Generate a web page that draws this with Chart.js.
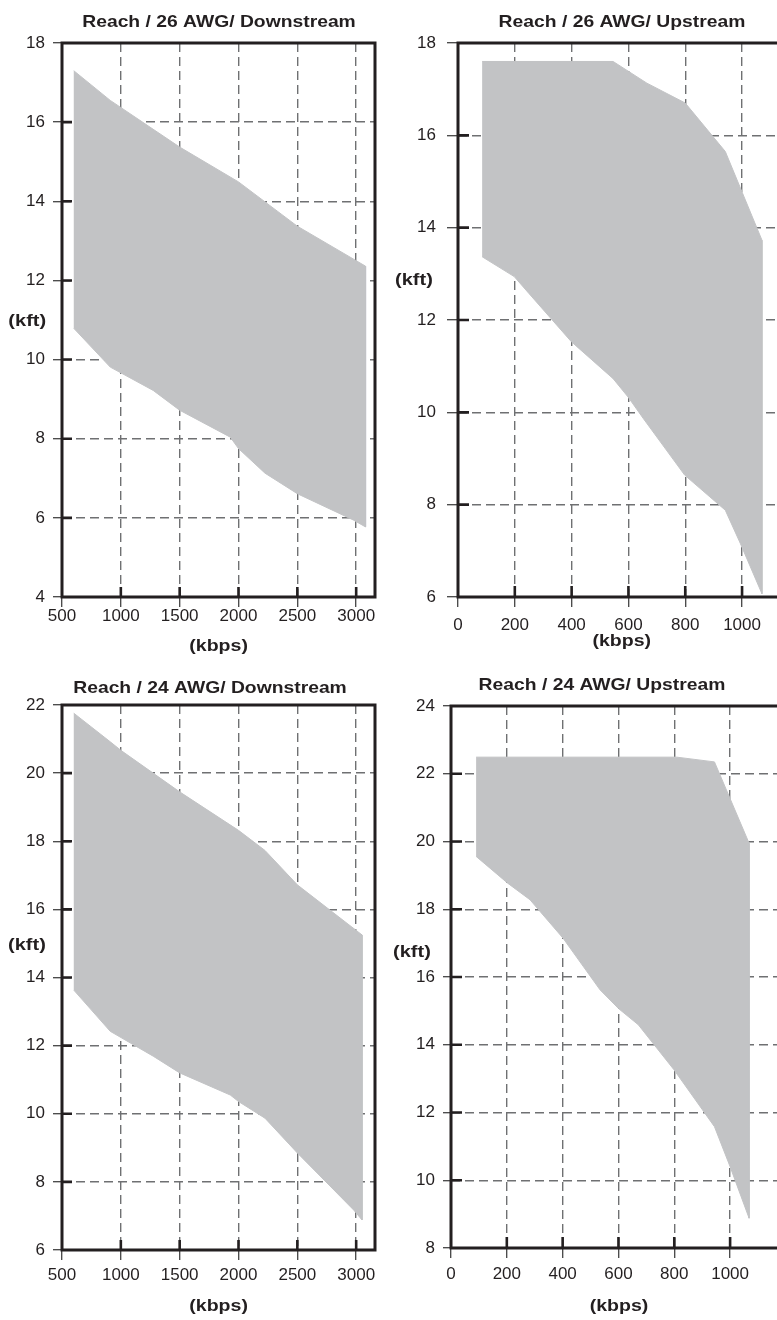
<!DOCTYPE html>
<html>
<head>
<meta charset="utf-8">
<script src="https://cdn.jsdelivr.net/npm/chart.js@4.4.1/dist/chart.umd.min.js"></script>
<style>
  html, body { margin: 0; padding: 0; background: #fff; }
  body { width: 777px; height: 1320px; position: relative; overflow: hidden; }
  canvas { position: absolute; }
</style>
</head>
<body>
<canvas id="c26down" width="388" height="660" style="left:0;top:0"></canvas>
<canvas id="c26up" width="389" height="660" style="left:388px;top:0"></canvas>
<canvas id="c24down" width="388" height="660" style="left:0;top:660px"></canvas>
<canvas id="c24up" width="389" height="660" style="left:388px;top:660px"></canvas>
<script>
// tick labels
const downTicksX = [500, 1000, 1500, 2000, 2500, 3000];
const upTicksX = [0, 200, 400, 600, 800, 1000];
const d26TicksY = [4, 6, 8, 10, 12, 14, 16, 18];
const u26TicksY = [6, 8, 10, 12, 14, 16, 18];
const d24TicksY = [6, 8, 10, 12, 14, 16, 18, 20, 22];
const u24TicksY = [8, 10, 12, 14, 16, 18, 20, 22, 24];

// 26 AWG downstream: reach band (kft) vs rate (kbps)
const d26UpperX = [600, 910, 1500, 2000, 2500, 3080];
const d26UpperY = [17.3, 16.55, 15.37, 14.49, 13.37, 12.36];
const d26LowerX = [600, 910, 1275, 1500, 1930, 2000, 2225, 2500, 2980, 3080];
const d26LowerY = [10.79, 9.81, 9.22, 8.72, 8.04, 7.75, 7.13, 6.61, 5.94, 5.77];

// 26 AWG upstream
const u26UpperX = [85, 546, 665, 800, 941, 1070];
const u26UpperY = [17.6, 17.6, 17.13, 16.7, 15.65, 13.73];
const u26LowerX = [85, 198, 249, 399, 546, 599, 653, 798, 941, 994, 1070];
const u26LowerY = [13.37, 12.94, 12.58, 11.53, 10.73, 10.33, 9.86, 8.64, 7.88, 7.16, 6.07];

// 24 AWG downstream
const d24UpperX = [600, 910, 1000, 1500, 2000, 2225, 2500, 3050];
const d24UpperY = [21.76, 20.92, 20.67, 19.45, 18.32, 17.73, 16.72, 15.25];
const d24LowerX = [600, 910, 1275, 1500, 1930, 2000, 2225, 2500, 2980, 3050];
const d24LowerY = [13.63, 12.42, 11.69, 11.2, 10.55, 10.36, 9.87, 8.85, 7.17, 6.88];

// 24 AWG upstream
const u24UpperX = [90, 809, 944, 1068];
const u24UpperY = [22.49, 22.49, 22.35, 19.95];
const u24LowerX = [90, 203, 283, 401, 534, 600, 671, 799, 944, 1000, 1068];
const u24LowerY = [19.56, 18.77, 18.28, 17.15, 15.62, 15.07, 14.59, 13.26, 11.58, 10.4, 8.88];

const INK = '#231f20';
const BAND = '#c2c3c5';
const GRID = '#6f7072';
const FONT = '"Liberation Sans", Arial, Helvetica, sans-serif';

// upper edge left->right, then lower edge back, closed as one shape
function band(ux, uy, lx, ly) {
    const top = ux.map((x, i) => ({ x: x, y: uy[i] }));
    const bottom = lx.map((x, i) => ({ x: x, y: ly[i] })).reverse();
    return top.concat(bottom);
}

function wideText(ctx, str, x, y, align, sx) {
    ctx.save();
    ctx.translate(x, y);
    ctx.scale(sx, 1);
    ctx.textAlign = align;
    ctx.fillText(str, 0, 0);
    ctx.restore();
}

// box frame, inner tick marks and the titles
const framePlugin = {
    id: 'frame',
    afterDraw(chart, args, o) {
        const ctx = chart.ctx;
        const a = chart.chartArea;
        const x = chart.scales.x, y = chart.scales.y;
        ctx.save();
        ctx.strokeStyle = INK;
        ctx.lineWidth = 2.6;
        ctx.beginPath();
        x.ticks.forEach(t => {
            const px = x.getPixelForValue(t.value);
            if (px > a.left + 3 && px < a.right - 3) {
                ctx.moveTo(px, a.bottom);
                ctx.lineTo(px, a.bottom - o.inner);
            }
        });
        y.ticks.forEach(t => {
            const py = y.getPixelForValue(t.value);
            if (py > a.top + 3 && py < a.bottom - 3) {
                ctx.moveTo(a.left, py);
                ctx.lineTo(a.left + o.inner, py);
            }
        });
        ctx.stroke();

        ctx.lineWidth = 3;
        ctx.beginPath();
        if (o.closed) {
            ctx.rect(a.left, a.top, a.right - a.left, a.bottom - a.top);
        } else {
            ctx.moveTo(a.right + 2, a.top);
            ctx.lineTo(a.left, a.top);
            ctx.lineTo(a.left, a.bottom);
            ctx.lineTo(a.right + 2, a.bottom);
        }
        ctx.stroke();

        ctx.fillStyle = INK;
        ctx.textBaseline = 'alphabetic';
        ctx.font = 'bold 16.5px ' + FONT;
        wideText(ctx, o.title, o.titleX, o.titleY, 'center', 1.17);
        ctx.textBaseline = 'middle';
        ctx.font = 'bold 17px ' + FONT;
        wideText(ctx, '(kft)', o.kftX, o.kftY, 'left', 1.18);
        wideText(ctx, '(kbps)', o.kbpsX, o.kbpsY, 'center', 1.15);
        ctx.restore();
    }
};

function axis(min, max, ticks, size, tickLen, pad, horizontal) {
    return {
        type: 'linear',
        min: min,
        max: max,
        z: 1,
        afterBuildTicks: s => { s.ticks = ticks.map(v => ({ value: v })); },
        afterFit: s => { if (horizontal) s.height = size; else s.width = size; },
        grid: {
            color: GRID,
            lineWidth: 1.4,
            tickLength: tickLen,
            tickColor: '#444',
            tickWidth: 1.3
        },
        border: { display: false, dash: [9, 5] },
        ticks: {
            color: INK,
            padding: pad,
            font: { family: FONT, size: 17 },
            callback: v => String(v)
        }
    };
}

function panel(id, p) {
    new Chart(document.getElementById(id), {
        type: 'scatter',
        data: {
            datasets: [{
                data: p.data,
                showLine: true,
                fill: 'shape',
                backgroundColor: BAND,
                borderColor: BAND,
                borderWidth: 1,
                pointRadius: 0,
                pointHoverRadius: 0,
                tension: 0
            }]
        },
        options: {
            responsive: false,
            animation: false,
            events: [],
            layout: { padding: p.pad },
            plugins: {
                legend: { display: false },
                tooltip: { enabled: false },
                frame: p.frame
            },
            scales: {
                x: axis(p.xMin, p.xMax, p.xTicks, p.xh, 10, p.xPad, true),
                y: axis(p.yMin, p.yMax, p.yTicks, p.yw, p.yTick, p.yPad, false)
            }
        },
        plugins: [framePlugin]
    });
}

panel('c26down', {
    data: band(d26UpperX, d26UpperY, d26LowerX, d26LowerY),
    xMin: 500, xMax: 3160, xTicks: downTicksX,
    yMin: 4, yMax: 18, yTicks: d26TicksY,
    pad: { top: 43, right: 13, left: 0, bottom: 0 },
    xh: 63, yw: 62, xPad: -1, yTick: 9, yPad: 8,
    frame: { closed: true, inner: 10, title: 'Reach / 26 AWG/ Downstream', titleX: 219, titleY: 26.7,
             kftX: 8.3, kftY: 321, kbpsX: 218.6, kbpsY: 646 }
});

panel('c26up', {
    data: band(u26UpperX, u26UpperY, u26LowerX, u26LowerY),
    xMin: 0, xMax: 1123, xTicks: upTicksX,
    yMin: 6, yMax: 18, yTicks: u26TicksY,
    pad: { top: 43, right: 0, left: 0, bottom: 0 },
    xh: 63, yw: 70, xPad: 8, yTick: 11, yPad: 11,
    frame: { closed: false, inner: 11, title: 'Reach / 26 AWG/ Upstream', titleX: 234, titleY: 26.7,
             kftX: 7, kftY: 280, kbpsX: 233.7, kbpsY: 641 }
});

panel('c24down', {
    data: band(d24UpperX, d24UpperY, d24LowerX, d24LowerY),
    xMin: 500, xMax: 3160, xTicks: downTicksX,
    yMin: 6, yMax: 22, yTicks: d24TicksY,
    pad: { top: 45, right: 13, left: 0, bottom: 0 },
    xh: 70, yw: 62, xPad: 5.5, yTick: 9, yPad: 8,
    frame: { closed: true, inner: 10, title: 'Reach / 24 AWG/ Downstream', titleX: 210, titleY: 33.3,
             kftX: 8, kftY: 285, kbpsX: 218.6, kbpsY: 646 }
});

panel('c24up', {
    data: band(u24UpperX, u24UpperY, u24LowerX, u24LowerY),
    xMin: 0, xMax: 1168, xTicks: upTicksX,
    yMin: 8, yMax: 24, yTicks: u24TicksY,
    pad: { top: 46, right: 0, left: 0, bottom: 0 },
    xh: 72, yw: 63, xPad: 6.5, yTick: 8, yPad: 8,
    frame: { closed: false, inner: 11, title: 'Reach / 24 AWG/ Upstream', titleX: 214, titleY: 30,
             kftX: 5, kftY: 292, kbpsX: 231, kbpsY: 646 }
});
</script>
</body>
</html>
